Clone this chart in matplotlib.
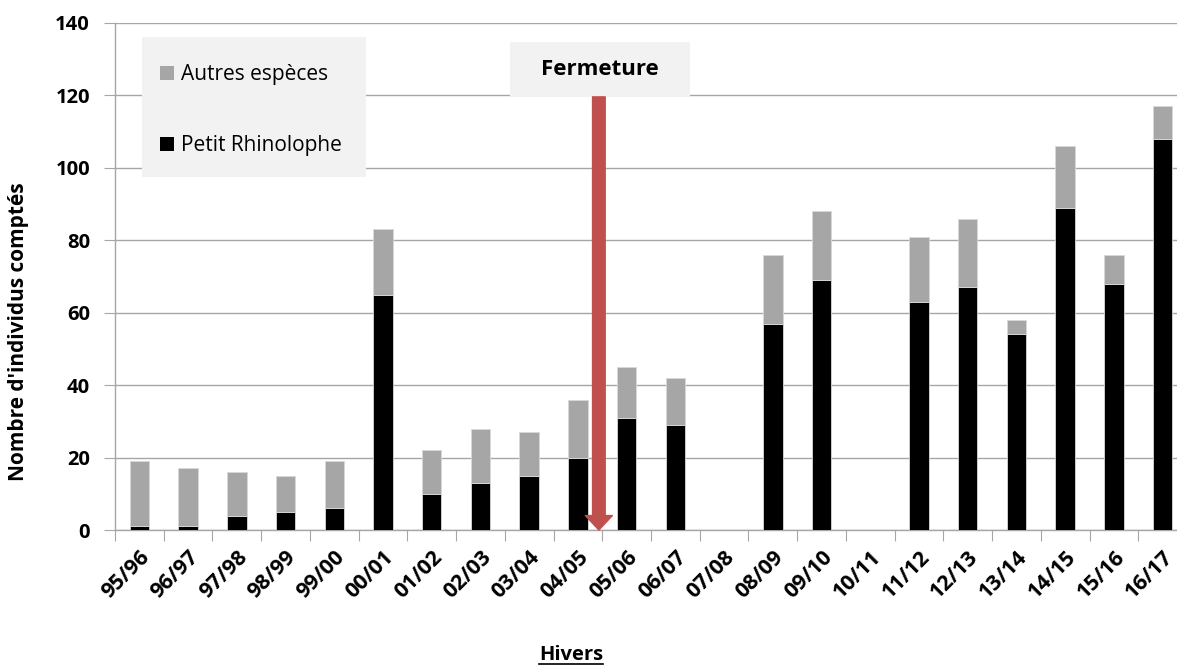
import matplotlib
matplotlib.use('Agg')
import matplotlib.pyplot as plt
from matplotlib.patches import Rectangle, Patch
from matplotlib.lines import Line2D

plt.rcParams['font.family'] = ['Open Sans', 'DejaVu Sans']

# hivers et comptages
hivers = ['95/96', '96/97', '97/98', '98/99', '99/00', '00/01', '01/02', '02/03',
          '03/04', '04/05', '05/06', '06/07', '07/08', '08/09', '09/10', '10/11',
          '11/12', '12/13', '13/14', '14/15', '15/16', '16/17']
petit_rhino = [1, 1, 4, 5, 6, 65, 10, 13, 15, 20, 31, 29, 0, 57, 69, 0,
               63, 67, 54, 89, 68, 108]
totaux = [19, 17, 16, 15, 19, 83, 22, 28, 27, 36, 45, 42, 0, 76, 88, 0,
          81, 86, 58, 106, 76, 117]
autres = [t - p for t, p in zip(totaux, petit_rhino)]

fig = plt.figure(figsize=(11.77, 6.68), dpi=100)
ax = fig.add_axes([115 / 1177, 1 - 530 / 668, 1072 / 1177, 507 / 668])

x = list(range(len(hivers)))
ax.bar(x, petit_rhino, width=0.4, color='black', edgecolor='#d9d9d9', linewidth=0.6, zorder=3)
ax.bar(x, autres, width=0.4, bottom=petit_rhino, color='#a6a6a6', edgecolor='#d9d9d9',
       linewidth=0.6, zorder=3)

ax.set_xlim(-0.5, len(hivers) - 0.5)
ax.set_ylim(0, 140)
ax.set_yticks(range(0, 141, 20))
ax.yaxis.grid(True, color='#a6a6a6', linewidth=1.0, zorder=0)
ax.set_axisbelow(True)

for s in ['top', 'right']:
    ax.spines[s].set_visible(False)
for s in ['left', 'bottom']:
    ax.spines[s].set_color('#a6a6a6')
    ax.spines[s].set_linewidth(1.0)

# ticks between categories
ax.set_xticks([i - 0.5 for i in range(len(hivers) + 1)])
ax.set_xticklabels([])
ax.set_xticks(x, minor=True)
ax.set_xticklabels(hivers, minor=True, rotation=45, ha='right', va='top',
                   rotation_mode='anchor', fontsize=15.5, fontweight='bold')
ax.tick_params(axis='x', which='major', length=8, color='#a6a6a6', direction='out')
ax.tick_params(axis='x', which='minor', length=0, pad=12)
ax.tick_params(axis='y', length=8, color='#a6a6a6', labelsize=14.5, pad=10)
for lab in ax.get_yticklabels():
    lab.set_fontweight('bold')

# legende (fond dessine a part)
ax.add_patch(Rectangle((0.0252, 0.696), 0.209, 0.276, transform=ax.transAxes,
                       facecolor='#f2f2f2', edgecolor='none', zorder=5))
handles = [Patch(facecolor='#a6a6a6', label='Autres espèces'),
           Patch(facecolor='black', label='Petit Rhinolophe')]
leg = ax.legend(handles=handles, loc='upper left', bbox_to_anchor=(0.042, 0.919),
                fontsize=15, frameon=False, labelspacing=2.4, borderpad=0,
                handlelength=0.65, handleheight=0.65, handletextpad=0.35, borderaxespad=0)
leg.set_zorder(6)

# fermeture
ax.add_patch(Rectangle((0.3685, 0.854), 0.168, 0.1085, transform=ax.transAxes,
                       facecolor='#f2f2f2', edgecolor='none', zorder=5, clip_on=False))
ax.text(0.3685 + 0.084, 0.854 + 0.054, 'Fermeture', transform=ax.transAxes,
        ha='center', va='center', fontsize=16, fontweight='bold', zorder=6)
ax.annotate('', xy=(9.43, 0), xytext=(9.43, 119.6),
            arrowprops=dict(arrowstyle='simple,head_length=0.8,head_width=1.5,tail_width=0.7',
                            mutation_scale=13, color='#c0504d', shrinkA=0, shrinkB=0),
            zorder=6)

fig.text(19 / 1177, 1 - 332 / 668, "Nombre d'individus comptés", rotation=90,
         ha='center', va='center', fontsize=15, fontweight='bold')
t = fig.text(571 / 1177, 1 - 655 / 668, 'Hivers', ha='center', va='center',
             fontsize=14.5, fontweight='bold')

fig.canvas.draw()
bb = t.get_window_extent().transformed(fig.transFigure.inverted())
fig.add_artist(Line2D([bb.x0, bb.x1], [bb.y0 + 0.002, bb.y0 + 0.002], color='black',
                      linewidth=1.2, transform=fig.transFigure))

fig.savefig('out.png', dpi=100)
